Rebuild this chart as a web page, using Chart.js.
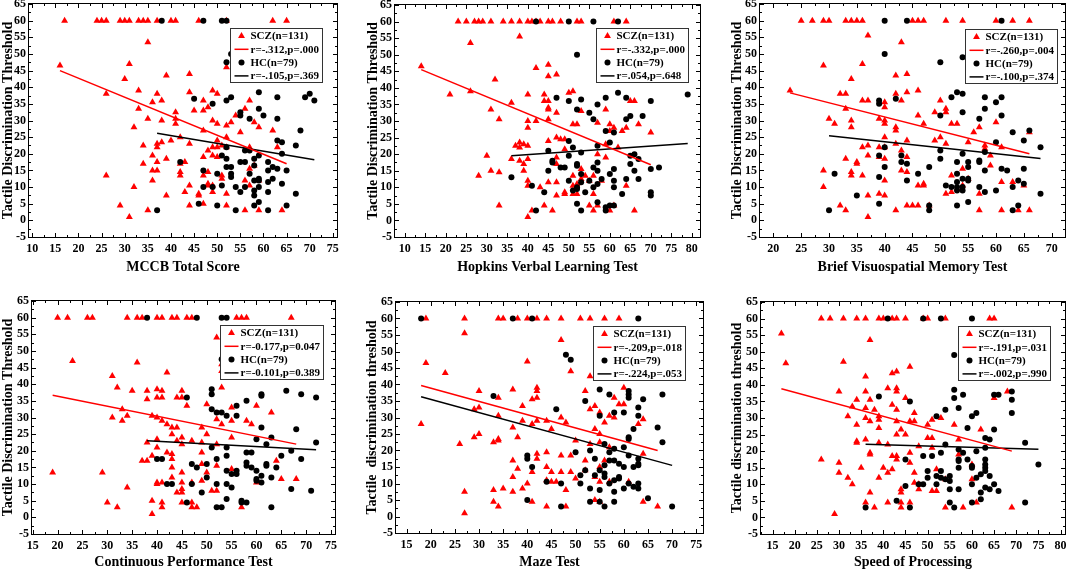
<!DOCTYPE html>
<html>
<head>
<meta charset="utf-8">
<script src="https://cdn.jsdelivr.net/npm/chart.js@4.4.1/dist/chart.umd.min.js"></script>
<style>
  body { margin: 0; background: #fff; }
  #wrap { position: relative; width: 1069px; height: 572px; }
  .panel { position: absolute; }
  .frame { position: absolute; box-sizing: border-box; border: 1.5px solid #000; pointer-events: none; }
  .tick { position: absolute; background: #000; pointer-events: none; }
</style>
</head>
<body>
<div id="wrap"></div>
<script>
// values, [x, y] pairs
const mccbScz = [[17,60],[24,60],[25,60],[26,60],[29,60],[30,60],[31,60],[33,60],[34,60],[35,60],[37,60],[40,60],[41,60],[46,60],[52,60],[62,60],[65,60],
  [16,46.5],[26,38],[26,13.5],[29,4.5],[30,42.5],[31,47],[31,1],[32,28],[32,10],[33,39],[33,33.5],[34,22.5],[34,17],[35,53.5],[35,30.5],[35,3],[36,35.5],[36,19.5],[36,15],[36,12],
  [37,38],[37,23],[37,22],[37,17.5],[37,15],[38,36],[38,30],[38,23.5],[39,43.5],[39,18.5],[39,7.5],[40,24],[41,32.5],[41,29],[41,30.5],[42,25],[42,17],[42,14.5],[42,13.5],
  [43,17.5],[43,8.5],[44,44],[44,38.5],[44,23],[44,10.5],[44,4.5],[45,33],[46,8],[46,7.5],[47,36],[47,33],[47,27],[47,19],[47,13.5],[47,5],[48,34],[48,21],[48,14.5],[48,11],[48,10.5],
  [49,39],[49,30],[49,22],[49,19.5],[49,8.5],[49,10.5],[50,38],[50,29],[50,24],[50,22],[50,19],[51,22.5],[51,13.5],[51,12.5],[52,46],[52,28.5],[52,25],[52,22],[52,8],[52,4.5],
  [53,29.5],[54,31.5],[55,26.5],[56,33.5],[56,12],[56,3],[57,36],[57,22],[57,15.5],[57,10.5],[58,29.5],[58,16.5],[59,28],[59,12],[59,3],[62,27],[63,22],[64,3]];
const mccbHc = [[38,60],[47,60],[51,60],[52,60],[52,47.5],[53,50],[52,36],[53,37],[45,36.5],[49,35],[55,32.5],[55,31.5],[57,30.5],[59,38.5],[59,33.5],[60,31.5],[63,37],[63,30.5],
  [69,37],[70,38],[71,36],[68,27],[63,24],[64,23.5],[67,22.5],[64,20],[51,19.5],[52,22],[52,18.5],[52,16],[53,16],[55,17.5],[56,17.5],[56,21],[58,18.5],[58,16.5],[59,19.5],
  [61,17.5],[61,15],[62,16],[63,15.5],[65,15],[47,15],[53,14],[53,13],[50,14],[57,14],[58,12],[59,12.5],[59,12],[59,10],[61,11.5],[62,12.5],[64,11],[47,10],[49,10],[51,10.5],
  [54,10],[55,8.5],[56,10],[58,9],[58,7.5],[58,4.5],[59,5.5],[61,8.5],[67,8],[46,5],[50,4.5],[65,4.5],[37,3],[54,3],[61,3],[42,17.5],[57,21]];
const mccbSczFit = [[16,45],[65,17]];
const mccbHcFit = [[37,26.2],[71,18.2]];
const mccbStats = ['r=-.312,p=.000', 'r=-.105,p=.369'];

const hvltScz = [[23,60],[25,60],[27,60],[28,60],[29,60],[31,60],[34,60],[36,60],[38,60],[40,60],[41,60],[42,60],[43,60],[45,60],[46,60],[48,60],[52,60],[53,60],[61,60],[64,60],
  [14,46.5],[21,38],[26,53.5],[26,39],[28,13.5],[30,19.5],[31,33.5],[31,15],[32,42.5],[33,30.5],[33,14.5],[33,4.5],[36,35.5],[36,18.5],[37,22.5],[38,55.5],[38,23.5],[38,22],[38,18],
  [39,23],[39,17],[39,15],[40,38],[40,30],[40,28],[40,22.5],[40,18.5],[40,12],[40,10.5],[40,1],[41,3],[42,46],[42,30],[43,10],[44,38],[44,36],[44,4.5],[45,47],[45,43.5],[45,36],
  [45,34],[45,33.5],[45,30.5],[45,24],[45,11.5],[46,3],[47,44],[47,32.5],[47,25],[47,19],[47,17],[47,11.5],[47,7.5],[48,24.5],[49,24.5],[49,21.5],[49,8.5],[49,8],[50,38.5],[51,39],
  [51,29],[51,13.5],[51,10.5],[51,8],[52,29],[52,11],[52,8],[53,33],[53,15.5],[53,12.5],[54,13.5],[55,12],[55,4.5],[56,13.5],[56,8],[56,3],[57,29.5],[57,20],[57,4.5],[58,12],
  [59,33.5],[59,23],[59,19],[60,29],[60,27],[60,3],[61,28],[61,4.5],[62,22],[63,27],[64,28],[64,10.5],[65,36],[66,36],[66,3],[67,29],[70,26.5]];
const hvltHc = [[42,60],[50,60],[56,60],[62,60],[52,50],[47,37],[50,36],[53,36.5],[52,33.5],[55,32.5],[57,35],[59,37],[62,38.5],[64,37],[70,36],[79,38],[56,30.5],[64,30.5],
  [65,31.5],[68,31.5],[59,27],[60,23.5],[61,26.5],[57,22.5],[51,22],[45,21],[50,24],[50,19.5],[53,20.5],[46,18],[46,17.5],[49,16],[52,17],[52,16.5],[57,17.5],[56,16],[65,19.5],
  [66,20],[67,18.5],[65,17],[60,14],[61,15.5],[57,15],[55,12],[53,14],[45,15],[36,13],[41,10.5],[44,8.5],[50,12],[51,9],[52,10],[53,11.5],[54,8.5],[56,10],[57,11],[58,12.5],
  [61,12],[61,10],[64,12.5],[66,15],[67,12.5],[72,16],[70,15.5],[70,8.5],[70,7.5],[63,8],[52,5],[57,5.5],[59,4],[60,4.5],[61,4.5],[59,3],[53,3],[42,3],[52,9.5],[48,16]];
const hvltSczFit = [[14,45.5],[70,16.8]];
const hvltHcFit = [[36,19.5],[79,23.2]];
const hvltStats = ['r=-.332,p=.000', 'r=.054,p=.648'];

const bvmtScz = [[25,60],[27,60],[29,60],[30,60],[33,60],[34,60],[35,60],[36,60],[45,60],[46,60],[47,60],[51,60],[54,60],[60,60],[63,60],[66,60],
  [23,39],[29,46.5],[29,15],[29,10],[30,30.5],[31,29],[32,38],[32,4.5],[33,38],[33,33.5],[33,18.5],[33,3],[34,42.5],[34,30],[34,28],[34,14.5],[34,13.5],[35,17.5],[35,17],
  [36,47],[36,36],[36,22],[36,13.5],[37,55.5],[37,36],[37,22.5],[37,19.5],[37,7.5],[37,1],[39,30.5],[39,22],[39,19],[39,8],[40,35.5],[40,34],[40,30],[40,29],[40,25],[40,22],
  [40,18.5],[40,12],[40,7.5],[42,43.5],[42,38],[42,28],[42,27],[42,23],[42,3],[43,53.5],[43,36],[43,21],[43,15],[44,44],[44,38.5],[44,24],[44,19],[44,14.5],[44,4.5],[45,4.5],
  [46,39],[46,31.5],[46,10.5],[46,4.5],[47,29],[47,11],[47,10.5],[48,4.5],[49,32.5],[49,24],[50,36],[50,25],[51,33.5],[51,32.5],[51,23],[51,8],[52,29],[52,13.5],[52,8.5],
  [53,29],[53,9.5],[54,15.5],[54,10.5],[55,23.5],[55,12.5],[56,26.5],[57,28],[57,8],[57,3],[58,22.5],[58,21.5],[59,19.5],[59,16.5],[60,29.5],[61,22],[61,11.5],[61,3],[63,11.5],
  [64,3],[65,10.5],[66,26.5],[66,3]];
const bvmtHc = [[40,60],[44,60],[61,60],[40,50],[54,49],[50,47.5],[39,36],[39,35],[42,36.5],[52,37],[53,38.5],[54,38],[54,32.5],[50,31.5],[58,37],[58,33.5],[60,35.5],[61,37],
  [61,31.5],[57,30.5],[63,26.5],[66,27],[60,23.5],[65,24],[68,22],[40,22],[50,21],[58,20.5],[54,20],[39,19.5],[43,19.5],[50,18.5],[57,18],[57,17.5],[43,17.5],[40,16],[44,17],
  [48,16],[53,17.5],[55,17.5],[55,16],[58,15],[61,15.5],[62,15],[65,15.5],[31,14],[46,14],[53,14],[39,13],[54,12.5],[55,12.5],[55,12],[53,11.5],[44,12],[64,12],[65,11],
  [51,10.5],[52,10],[53,10],[53,9],[54,10],[54,9],[57,10],[58,8.5],[60,9],[63,10],[68,8],[35,7.5],[39,5],[48,4.5],[48,3],[53,4.5],[55,5.5],[64,4.5],[63,3],[30,3]];
const bvmtSczFit = [[23,38.3],[66,20]];
const bvmtHcFit = [[30,25.4],[68,18.6]];
const bvmtStats = ['r=-.260,p=.004', 'r=-.100,p=.374'];

const cptScz = [[20,60],[22,60],[26,60],[27,60],[34,60],[36,60],[37,60],[40,60],[41,60],[43,60],[44,60],[46,60],[47,60],[56,60],[57,60],[58,60],[67,60],
  [19,13.5],[23,47],[29,13.5],[30,4.5],[31,42.5],[31,30],[32,39],[32,3],[33,32.5],[33,29],[34,30.5],[34,9],[35,38],[36,46.5],[37,17],[38,38],[38,35.5],[38,22.5],[38,17],
  [39,30.5],[39,18.5],[39,5],[39,1],[40,38.5],[40,36],[40,30],[40,23.5],[40,21],[40,10.5],[40,10],[41,38],[41,36],[41,29],[41,10.5],[41,4.5],[41,3],[42,43.5],[42,28],[42,19.5],
  [43,27],[43,25],[43,19],[43,17.5],[43,15],[43,12],[44,36],[44,27],[44,23],[44,7.5],[45,38],[45,36],[45,24],[45,22],[45,13.5],[45,10.5],[45,8.5],[45,7.5],[45,4.5],[46,33.5],
  [47,23],[47,10.5],[47,4.5],[47,3],[48,3],[49,27],[49,22.5],[49,19.5],[49,16],[49,11],[50,34],[50,25],[50,13.5],[51,8],[52,54],[52,29.5],[52,22],[52,15.5],[52,8],[53,46],
  [53,44],[53,39],[53,28],[55,33],[55,29],[55,24],[55,14.5],[57,3],[58,29],[59,28],[60,33.5],[60,10.5],[63,31.5],[64,17],[65,11.5],[68,11.5]];
const cptHc = [[38,60],[48,60],[53,60],[54,60],[53,47.5],[51,38.5],[51,37],[46,36],[51,32.5],[52,31.5],[53,31.5],[54,30.5],[56,33.5],[56,30.5],[58,35],[61,37],[61,36.5],[66,38],
  [69,37],[72,36],[61,27],[68,26.5],[63,24],[60,23.5],[62,22],[72,22.5],[54,21],[51,21],[67,20],[58,19.5],[59,19.5],[54,18.5],[52,17.5],[41,17.5],[40,17.5],[65,18.5],[69,17.5],
  [47,16],[48,15],[50,16],[58,16.5],[58,15.5],[59,15],[60,14],[62,15.5],[62,16],[64,15],[54,14],[56,14],[56,13],[55,13],[50,12],[60,11.5],[60,11],[61,12.5],[61,10.5],[63,12],
  [47,10],[43,10],[42,10],[52,10],[54,10],[55,9],[49,7.5],[67,8.5],[71,8],[54,5.5],[57,5],[58,4.5],[46,4.5],[52,3],[53,3],[63,3],[57,4.5]];
const cptSczFit = [[19,36.7],[68,22]];
const cptHcFit = [[38,23],[72,20.3]];
const cptStats = ['r=-0.177,p=0.047', 'r=-0.101,p=0.389'];

const mazeScz = [[19,60],[27,60],[34,60],[35,60],[38,60],[40,60],[42,60],[44,60],[47,60],[51,60],[53,60],[56,60],[59,60],
  [18,28],[19,46.5],[23,43.5],[26,22],[27,55.5],[27,7.5],[27,1],[29,32.5],[29,24],[30,38],[30,33],[30,25],[33,22.5],[33,8],[33,4.5],[34,36],[34,30.5],[34,23.5],[34,23],[34,3],
  [35,8.5],[37,38.5],[37,27],[37,17],[37,12],[37,7.5],[38,24],[38,14.5],[39,33.5],[39,29],[39,8.5],[40,47],[40,10],[41,35.5],[41,28],[41,13.5],[41,4.5],[42,39],[42,38],[42,36],
  [42,29],[42,19],[42,17.5],[44,29],[44,19.5],[44,15],[44,11],[44,3],[45,26.5],[45,13.5],[45,10.5],[46,10.5],[47,53.5],[47,30],[47,18.5],[47,13.5],[48,28.5],[48,8],[48,3],
  [49,44],[49,18.5],[49,13.5],[50,23],[50,11.5],[52,38],[52,17],[52,14],[53,42.5],[53,32.5],[53,22],[54,33.5],[54,26.5],[54,12],[54,5],[55,31.5],[55,25],[55,22.5],[55,15],
  [55,10.5],[55,4.5],[56,28.5],[56,17],[57,30.5],[57,21],[57,10.5],[58,36],[58,30],[60,39],[60,34],[61,10.5],[63,28],[64,29.5],[64,19],[64,4.5],[67,3],[59,34]];
const mazeHc = [[18,60],[37,60],[41,60],[63,60],[48,49],[49,47.5],[33,36.5],[46,32.5],[52,35],[55,38.5],[57,37],[58,31.5],[60,31.5],[61,38],[61,37],[61,36],[63,33],[64,35.5],
  [63,30.5],[68,37],[55,30.5],[62,26.5],[67,27],[61,24],[61,23.5],[60,21],[68,22.5],[50,19.5],[53,20],[56,22],[57,19.5],[58,20.5],[61,18.5],[63,17.5],[63,16],[63,15.5],[40,18.5],
  [40,17.5],[41,15],[52,14],[54,17.5],[55,14],[56,15.5],[56,13],[56,12],[57,17],[58,17],[59,16],[59,12],[59,11.5],[60,15],[62,15],[51,12.5],[54,12.5],[51,10],[47,10],[44,10.5],
  [53,8.5],[55,8],[57,10],[58,7.5],[58,11],[60,8.5],[61,10],[62,9],[63,10],[63,8.5],[40,5],[53,4.5],[55,4.5],[58,4.5],[65,5.5],[47,3],[56,3],[70,3]];
const mazeSczFit = [[18,39.7],[67,20]];
const mazeHcFit = [[18,36.3],[70,15.5]];
const mazeStats = ['r=-.209,p=.018', 'r=-.224,p=.053'];

const spScz = [[26,60],[28,60],[31,60],[34,60],[36,60],[39,60],[40,60],[42,60],[43,60],[45,60],[49,60],[50,60],[54,60],[64,60],[65,60],
  [17,55.5],[18,46.5],[26,17.5],[29,1],[30,38],[30,16.5],[30,13.5],[31,47],[32,30.5],[32,12],[33,33.5],[33,10],[34,35.5],[34,28],[34,23],[34,22.5],[35,15],[36,42.5],[36,38],
  [36,33],[36,30],[36,23.5],[36,4.5],[37,53.5],[37,35.5],[37,29],[37,19.5],[37,19],[37,7.5],[38,32.5],[38,3],[39,30.5],[39,29.5],[39,27],[39,22.5],[39,12],[40,15],[41,39],[41,22],
  [41,13.5],[41,4.5],[42,43.5],[42,34],[42,18.5],[42,14.5],[43,44],[43,39],[43,38],[43,32.5],[43,29],[43,25],[43,18.5],[43,17.5],[44,26.5],[44,8.5],[44,7.5],[44,4.5],[44,3],
  [45,36],[45,25],[46,45.5],[46,29],[46,19.5],[46,16.5],[46,4.5],[47,31.5],[47,29],[47,13.5],[47,10.5],[48,21.5],[48,10],[48,8.5],[50,28],[50,24],[51,29.5],[51,24],[51,21],
  [51,8],[52,14.5],[52,8],[53,30],[54,11.5],[54,3],[56,28],[57,23.5],[57,19],[58,3],[60,16],[60,11.5],[61,4.5],[62,26.5],[65,36],[68,38],[69,3]];
const spHc = [[41,60],[49,60],[53,60],[60,60],[56,49],[39,36.5],[46,35],[54,32.5],[56,38.5],[56,36],[57,33],[58,37],[52,30.5],[60,30.5],[61,31.5],[65,37],[66,37],[69,38],
  [69,35.5],[69,31.5],[59,27],[63,24],[64,23.5],[65,26.5],[72,22.5],[54,22],[57,20.5],[53,19.5],[58,19.5],[61,20],[63,21],[45,17.5],[49,18.5],[51,18.5],[57,17.5],[57,17],
  [57,15],[59,17.5],[60,15.5],[60,15],[63,17.5],[63,16],[63,15],[63,14],[50,14],[53,14],[52,12.5],[53,12],[54,11.5],[55,11],[55,12.5],[50,12],[45,9.5],[48,10],[49,10],
  [52,10],[60,10],[61,12],[62,13],[64,12.5],[63,9],[64,8.5],[65,10],[66,8],[62,7.5],[55,8.5],[57,8.5],[43,5],[55,4.5],[60,4.5],[62,5.5],[36,3],[46,3],[56,3],[72,4.5],[75,16]];
const spSczFit = [[17,38.8],[69,20]];
const spHcFit = [[36,22.1],[75,20.6]];
const spStats = ['r=-.191,p=.031', 'r=-.002,p=.990'];

const SERIF = '"Liberation Serif", "Times New Roman", serif';
const RED = '#ff0000';

// Origin-style legend box inside the top right corner of the plot
function drawLegend(chart, opts) {
  const ctx = chart.ctx, a = chart.chartArea;
  const ds = chart.data.datasets;
  ctx.save();
  ctx.font = 'bold 11px ' + SERIF;
  const textW = Math.max(...ds.map(d => ctx.measureText(d.label).width));
  const w = Math.round(20 + textW + 4), h = 54, rowH = 13.3;
  const left = Math.round(a.right - opts.gapRight - w) + 0.5;
  const top = Math.round(a.top + opts.gapTop) + 0.5;
  ctx.fillStyle = '#fff';
  ctx.fillRect(left, top, w, h);
  ctx.strokeStyle = '#333';
  ctx.lineWidth = 1;
  ctx.strokeRect(left, top, w, h);
  ds.forEach((d, i) => {
    const cy = top + 7.5 + i * rowH;
    if (d.showLine) {
      ctx.strokeStyle = d.borderColor;
      ctx.lineWidth = 1.5;
      ctx.beginPath();
      ctx.moveTo(left + 4, cy); ctx.lineTo(left + 18, cy);
      ctx.stroke();
    } else {
      ctx.fillStyle = d.backgroundColor;
      Chart.helpers.drawPoint(ctx, { pointStyle: d.pointStyle, radius: d.pointRadius, borderWidth: 0, rotation: 0 }, left + 11, cy);
    }
    ctx.fillStyle = '#000';
    ctx.textBaseline = 'middle';
    ctx.textAlign = 'left';
    ctx.fillText(d.label, left + 20, cy + 0.5);
  });
  ctx.restore();
}

const legendPlugin = {
  id: 'boxLegend',
  afterDatasetsDraw(chart, args, opts) { drawLegend(chart, opts); }
};

// plot box and inward major/minor ticks as page elements placed from the chart's scales
function addFrame(div, chart) {
  const a = chart.chartArea, x = chart.scales.x, y = chart.scales.y;
  const frame = document.createElement('div');
  frame.className = 'frame';
  frame.style.left = (a.left - 1) + 'px';
  frame.style.top = (a.top - 1) + 'px';
  frame.style.width = (a.right - a.left + 2) + 'px';
  frame.style.height = (a.bottom - a.top + 2) + 'px';
  div.appendChild(frame);
  const tick = (l, t, w, h) => {
    const e = document.createElement('div');
    e.className = 'tick';
    e.style.left = l + 'px'; e.style.top = t + 'px';
    e.style.width = w + 'px'; e.style.height = h + 'px';
    div.appendChild(e);
  };
  for (let v = Math.ceil(x.min / 2.5) * 2.5; v <= x.max; v += 2.5) {
    const px = Math.round(x.getPixelForValue(v));
    const len = v % 5 === 0 ? 4 : 2;
    tick(px, a.bottom - len, 1, len);
    tick(px, a.top, 1, len);
  }
  for (let v = Math.ceil(y.min / 2.5) * 2.5; v <= y.max; v += 2.5) {
    const py = Math.round(y.getPixelForValue(v));
    const len = v % 5 === 0 ? 4 : 2;
    tick(a.left, py, len, 1);
    tick(a.right - len, py, len, 1);
  }
}

const panels = [
  { box: [0, 0, 355, 286], area: [29, 4, 337, 237], xMin: 9.3, xMax: 75.9, xTitle: 'MCCB Total Score',
    yTitle: 'Tactile Discrimination Threshold', xPad: 10, yPad: 0, gap: [15, 24],
    scz: mccbScz, hc: mccbHc, sczFit: mccbSczFit, hcFit: mccbHcFit, stats: mccbStats },
  { box: [355, 0, 357, 286], area: [40, 5, 345, 237], xMin: 7.6, xMax: 82, xTitle: 'Hopkins Verbal Learning Test',
    yTitle: 'Tactile Discrimination Threshold', xPad: 10, yPad: 10, gap: [12, 23],
    scz: hvltScz, hc: hvltHc, sczFit: hvltSczFit, hcFit: hvltHcFit, stats: hvltStats },
  { box: [712, 0, 357, 286], area: [48, 4, 353, 237], xMin: 17.6, xMax: 72.4, xTitle: 'Brief Visuospatial Memory Test',
    yTitle: 'Tactile Discrimination Threshold', xPad: 10, yPad: 17, gap: [8, 25],
    scz: bvmtScz, hc: bvmtHc, sczFit: bvmtSczFit, hcFit: bvmtHcFit, stats: bvmtStats },
  { box: [0, 286, 355, 286], area: [32, 15, 335, 248], xMin: 14.85, xMax: 75.8, xTitle: 'Continuous Performance Test',
    yTitle: 'Tactile Discrimination Threshold', xPad: 1, yPad: 0, gap: [12, 24],
    scz: cptScz, hc: cptHc, sczFit: cptSczFit, hcFit: cptHcFit, stats: cptStats },
  { box: [355, 286, 357, 286], area: [41, 16, 348, 247], xMin: 12.8, xMax: 76.4, xTitle: 'Maze Test',
    yTitle: 'Tactile  discrimination threshold', xPad: 1, yPad: 9, gap: [18, 24],
    scz: mazeScz, hc: mazeHc, sczFit: mazeSczFit, hcFit: mazeHcFit, stats: mazeStats },
  { box: [712, 286, 357, 286], area: [49, 16, 353, 248], xMin: 12.4, xMax: 81, xTitle: 'Speed of Processing',
    yTitle: 'Tactile discrimination threshold', xPad: 1, yPad: 17, gap: [15, 24],
    scz: spScz, hc: spHc, sczFit: spSczFit, hcFit: spHcFit, stats: spStats }
];

const toPts = arr => arr.map(([x, y]) => ({ x, y }));
const fives = (min, max) => {
  const t = [];
  for (let v = Math.ceil(min / 5) * 5; v <= max + 1e-9; v += 5) t.push({ value: v });
  return t;
};

const wrap = document.getElementById('wrap');
panels.forEach(p => {
  const [bx, by, bw, bh] = p.box;
  const [al, at, ar, ab] = p.area;
  const div = document.createElement('div');
  div.className = 'panel';
  div.style.left = bx + 'px';
  div.style.top = by + 'px';
  div.style.width = bw + 'px';
  div.style.height = bh + 'px';
  const canvas = document.createElement('canvas');
  canvas.width = bw; canvas.height = bh;
  canvas.style.width = bw + 'px'; canvas.style.height = bh + 'px';
  div.appendChild(canvas);
  wrap.appendChild(div);

  const tickFont = { family: SERIF, size: 12, weight: 'bold', lineHeight: 1 };
  const titleFont = { family: SERIF, size: 14, weight: 'bold' };

  const chart = new Chart(canvas, {
    type: 'scatter',
    data: {
      datasets: [
        { label: 'SCZ(n=131)', data: toPts(p.scz), pointStyle: 'triangle', pointRadius: 4,
          backgroundColor: RED, borderColor: RED, borderWidth: 0, order: 2 },
        { label: p.stats[0], data: toPts(p.sczFit), showLine: true, borderColor: RED, borderWidth: 1.5,
          pointRadius: 0, order: 0 },
        { label: 'HC(n=79)', data: toPts(p.hc), pointStyle: 'circle', pointRadius: 3,
          backgroundColor: '#000', borderColor: '#000', borderWidth: 0, order: 1 },
        { label: p.stats[1], data: toPts(p.hcFit), showLine: true, borderColor: '#000', borderWidth: 1.5,
          pointRadius: 0, order: 0 }
      ]
    },
    options: {
      responsive: false,
      animation: false,
      devicePixelRatio: 1,
      layout: { padding: { left: 0, top: at, right: bw - ar, bottom: 0 } },
      plugins: {
        legend: { display: false },
        tooltip: { enabled: false },
        boxLegend: { gapRight: p.gap[0], gapTop: p.gap[1] }
      },
      scales: {
        x: {
          type: 'linear', min: p.xMin, max: p.xMax,
          grid: { display: false, drawTicks: false }, border: { display: false },
          ticks: { font: tickFont, color: '#000', padding: 6, maxRotation: 0, autoSkip: false },
          afterBuildTicks: s => { s.ticks = fives(s.min, s.max); },
          afterFit: s => { s.height = bh - ab; s.paddingLeft = 0; s.paddingRight = 0; },
          title: { display: true, text: p.xTitle, font: titleFont, color: '#000', padding: { top: 0, bottom: p.xPad } }
        },
        y: {
          type: 'linear', min: -5, max: 65,
          grid: { display: false, drawTicks: false }, border: { display: false },
          ticks: { font: tickFont, color: '#000', padding: 3, autoSkip: false },
          afterBuildTicks: s => { s.ticks = fives(s.min, s.max); },
          afterFit: s => { s.width = al; s.paddingTop = 0; s.paddingBottom = 0; },
          title: { display: true, text: p.yTitle, font: titleFont, color: '#000', padding: { top: p.yPad, bottom: 0 } }
        }
      }
    },
    plugins: [legendPlugin]
  });
  addFrame(div, chart);
});
</script>
</body>
</html>
